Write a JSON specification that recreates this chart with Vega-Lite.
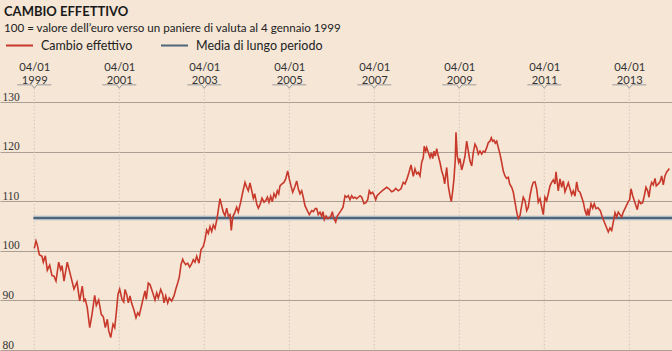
{
  "$schema": "https://vega.github.io/schema/vega-lite/v6.json",
  "width": 672,
  "height": 248,
  "autosize": {"type": "none"},
  "padding": {"left": 0, "right": 0, "top": 102, "bottom": 1},
  "background": "#f5e6d6",
  "title": {
    "text": "CAMBIO EFFETTIVO",
    "subtitle": "100 = valore dell’euro verso un paniere di valuta al 4 gennaio 1999",
    "anchor": "start",
    "frame": "group",
    "dx": 4,
    "offset": -4,
    "font": "Lato",
    "fontSize": 13,
    "fontWeight": "bold",
    "color": "#1a1a1a",
    "subtitleFont": "Lato",
    "subtitleFontSize": 11.6,
    "subtitleColor": "#222222",
    "subtitlePadding": 4.5
  },
  "datasets": {
    "scadenze": [
      {"anno": 1999}, {"anno": 2001}, {"anno": 2003}, {"anno": 2005},
      {"anno": 2007}, {"anno": 2009}, {"anno": 2011}, {"anno": 2013}
    ],
    "media": [
      {"anno": 1998.98, "fine": 2014.94, "valore": 106.6}
    ],
    "serie": [
      {"anno": 1999.000, "valore": 100.5}, {"anno": 1999.040, "valore": 102.0}, {"anno": 1999.071, "valore": 101.2},
      {"anno": 1999.118, "valore": 99.2}, {"anno": 1999.181, "valore": 98.9}, {"anno": 1999.212, "valore": 97.7},
      {"anno": 1999.259, "valore": 99.0}, {"anno": 1999.306, "valore": 96.1}, {"anno": 1999.362, "valore": 97.1},
      {"anno": 1999.416, "valore": 95.0}, {"anno": 1999.464, "valore": 94.9}, {"anno": 1999.511, "valore": 93.9},
      {"anno": 1999.574, "valore": 97.7}, {"anno": 1999.621, "valore": 96.2}, {"anno": 1999.652, "valore": 97.0},
      {"anno": 1999.699, "valore": 93.9}, {"anno": 1999.776, "valore": 97.7}, {"anno": 1999.840, "valore": 95.5},
      {"anno": 1999.934, "valore": 92.3}, {"anno": 2000.005, "valore": 93.7}, {"anno": 2000.068, "valore": 89.9},
      {"anno": 2000.129, "valore": 92.9}, {"anno": 2000.169, "valore": 89.9}, {"anno": 2000.200, "valore": 90.2},
      {"anno": 2000.247, "valore": 88.5}, {"anno": 2000.304, "valore": 84.5}, {"anno": 2000.358, "valore": 87.2},
      {"anno": 2000.421, "valore": 91.0}, {"anno": 2000.459, "valore": 89.0}, {"anno": 2000.515, "valore": 90.1},
      {"anno": 2000.576, "valore": 87.2}, {"anno": 2000.624, "valore": 86.7}, {"anno": 2000.671, "valore": 84.5},
      {"anno": 2000.718, "valore": 86.2}, {"anno": 2000.751, "valore": 83.9}, {"anno": 2000.798, "valore": 82.5},
      {"anno": 2000.852, "valore": 85.2}, {"anno": 2000.892, "valore": 84.5}, {"anno": 2000.929, "valore": 87.5},
      {"anno": 2000.969, "valore": 91.2}, {"anno": 2001.009, "valore": 92.3}, {"anno": 2001.064, "valore": 90.2},
      {"anno": 2001.104, "valore": 89.7}, {"anno": 2001.134, "valore": 92.2}, {"anno": 2001.174, "valore": 91.2},
      {"anno": 2001.212, "valore": 89.5}, {"anno": 2001.252, "valore": 90.9}, {"anno": 2001.292, "valore": 89.4},
      {"anno": 2001.339, "valore": 88.2}, {"anno": 2001.393, "valore": 86.5}, {"anno": 2001.433, "valore": 87.5},
      {"anno": 2001.471, "valore": 87.0}, {"anno": 2001.511, "valore": 88.5}, {"anno": 2001.565, "valore": 90.5},
      {"anno": 2001.605, "valore": 91.9}, {"anno": 2001.635, "valore": 90.2}, {"anno": 2001.682, "valore": 93.5},
      {"anno": 2001.722, "valore": 93.2}, {"anno": 2001.762, "valore": 92.2}, {"anno": 2001.800, "valore": 91.2},
      {"anno": 2001.840, "valore": 90.1}, {"anno": 2001.880, "valore": 91.5}, {"anno": 2001.918, "valore": 90.5},
      {"anno": 2001.974, "valore": 92.2}, {"anno": 2002.021, "valore": 91.2}, {"anno": 2002.052, "valore": 89.5},
      {"anno": 2002.092, "valore": 90.9}, {"anno": 2002.139, "valore": 89.5}, {"anno": 2002.176, "valore": 90.5},
      {"anno": 2002.233, "valore": 89.9}, {"anno": 2002.287, "valore": 90.9}, {"anno": 2002.327, "valore": 92.2},
      {"anno": 2002.374, "valore": 93.5}, {"anno": 2002.412, "valore": 94.7}, {"anno": 2002.452, "valore": 97.2},
      {"anno": 2002.492, "valore": 98.3}, {"anno": 2002.522, "valore": 97.7}, {"anno": 2002.562, "valore": 97.2},
      {"anno": 2002.609, "valore": 97.5}, {"anno": 2002.656, "valore": 96.7}, {"anno": 2002.704, "valore": 97.4},
      {"anno": 2002.741, "valore": 98.2}, {"anno": 2002.781, "valore": 97.7}, {"anno": 2002.821, "valore": 98.9},
      {"anno": 2002.875, "valore": 97.5}, {"anno": 2002.922, "valore": 100.2}, {"anno": 2002.976, "valore": 100.9},
      {"anno": 2003.016, "valore": 102.2}, {"anno": 2003.056, "valore": 104.2}, {"anno": 2003.094, "valore": 103.5},
      {"anno": 2003.134, "valore": 104.9}, {"anno": 2003.174, "valore": 103.9}, {"anno": 2003.212, "valore": 105.2},
      {"anno": 2003.252, "valore": 104.5}, {"anno": 2003.299, "valore": 106.5}, {"anno": 2003.329, "valore": 108.2},
      {"anno": 2003.369, "valore": 110.5}, {"anno": 2003.409, "valore": 109.1}, {"anno": 2003.447, "valore": 107.8},
      {"anno": 2003.487, "valore": 107.1}, {"anno": 2003.527, "valore": 108.6}, {"anno": 2003.565, "valore": 107.0},
      {"anno": 2003.605, "valore": 107.3}, {"anno": 2003.635, "valore": 104.1}, {"anno": 2003.668, "valore": 106.8},
      {"anno": 2003.722, "valore": 107.8}, {"anno": 2003.762, "valore": 108.8}, {"anno": 2003.800, "valore": 107.8},
      {"anno": 2003.856, "valore": 109.8}, {"anno": 2003.904, "valore": 111.8}, {"anno": 2003.958, "valore": 113.8},
      {"anno": 2003.998, "valore": 112.8}, {"anno": 2004.035, "valore": 112.1}, {"anno": 2004.075, "valore": 113.7},
      {"anno": 2004.122, "valore": 111.9}, {"anno": 2004.153, "valore": 110.6}, {"anno": 2004.186, "valore": 111.5},
      {"anno": 2004.233, "valore": 109.5}, {"anno": 2004.271, "valore": 108.6}, {"anno": 2004.311, "valore": 109.3},
      {"anno": 2004.358, "valore": 110.6}, {"anno": 2004.405, "valore": 109.8}, {"anno": 2004.445, "valore": 110.1},
      {"anno": 2004.485, "valore": 110.8}, {"anno": 2004.522, "valore": 109.8}, {"anno": 2004.562, "valore": 111.0},
      {"anno": 2004.600, "valore": 109.9}, {"anno": 2004.640, "valore": 111.5}, {"anno": 2004.680, "valore": 110.8},
      {"anno": 2004.718, "valore": 112.1}, {"anno": 2004.751, "valore": 111.5}, {"anno": 2004.781, "valore": 113.1},
      {"anno": 2004.828, "valore": 113.5}, {"anno": 2004.875, "valore": 113.8}, {"anno": 2004.915, "valore": 114.5},
      {"anno": 2004.962, "valore": 116.1}, {"anno": 2005.000, "valore": 114.5}, {"anno": 2005.040, "valore": 113.1},
      {"anno": 2005.080, "valore": 111.8}, {"anno": 2005.127, "valore": 112.8}, {"anno": 2005.174, "valore": 114.1},
      {"anno": 2005.212, "valore": 112.5}, {"anno": 2005.252, "valore": 111.5}, {"anno": 2005.292, "valore": 112.1},
      {"anno": 2005.329, "valore": 110.8}, {"anno": 2005.369, "valore": 109.1}, {"anno": 2005.424, "valore": 108.1},
      {"anno": 2005.471, "valore": 107.3}, {"anno": 2005.527, "valore": 108.1}, {"anno": 2005.565, "valore": 107.9},
      {"anno": 2005.612, "valore": 108.5}, {"anno": 2005.645, "valore": 108.5}, {"anno": 2005.682, "valore": 107.3},
      {"anno": 2005.722, "valore": 107.8}, {"anno": 2005.762, "valore": 107.0}, {"anno": 2005.793, "valore": 107.9},
      {"anno": 2005.824, "valore": 106.3}, {"anno": 2005.864, "valore": 107.0}, {"anno": 2005.904, "valore": 106.5},
      {"anno": 2005.941, "valore": 106.6}, {"anno": 2005.981, "valore": 107.0}, {"anno": 2006.012, "valore": 107.9},
      {"anno": 2006.045, "valore": 106.6}, {"anno": 2006.092, "valore": 105.8}, {"anno": 2006.129, "valore": 107.0},
      {"anno": 2006.169, "valore": 107.5}, {"anno": 2006.216, "valore": 108.1}, {"anno": 2006.264, "valore": 108.8},
      {"anno": 2006.311, "valore": 111.1}, {"anno": 2006.351, "valore": 110.8}, {"anno": 2006.388, "valore": 111.1},
      {"anno": 2006.428, "valore": 110.3}, {"anno": 2006.468, "valore": 111.1}, {"anno": 2006.506, "valore": 110.6},
      {"anno": 2006.546, "valore": 110.8}, {"anno": 2006.586, "valore": 110.5}, {"anno": 2006.624, "valore": 110.8},
      {"anno": 2006.664, "valore": 111.1}, {"anno": 2006.704, "valore": 110.8}, {"anno": 2006.758, "valore": 109.5},
      {"anno": 2006.805, "valore": 109.7}, {"anno": 2006.845, "valore": 110.3}, {"anno": 2006.882, "valore": 112.1},
      {"anno": 2006.922, "valore": 111.5}, {"anno": 2006.962, "valore": 111.8}, {"anno": 2007.000, "valore": 111.1},
      {"anno": 2007.033, "valore": 110.3}, {"anno": 2007.064, "valore": 111.1}, {"anno": 2007.134, "valore": 111.7},
      {"anno": 2007.212, "valore": 112.3}, {"anno": 2007.292, "valore": 112.8}, {"anno": 2007.346, "valore": 112.5},
      {"anno": 2007.409, "valore": 111.9}, {"anno": 2007.456, "valore": 112.1}, {"anno": 2007.504, "valore": 112.6},
      {"anno": 2007.565, "valore": 112.1}, {"anno": 2007.628, "valore": 112.5}, {"anno": 2007.682, "valore": 113.8},
      {"anno": 2007.722, "valore": 113.5}, {"anno": 2007.769, "valore": 114.5}, {"anno": 2007.816, "valore": 115.8},
      {"anno": 2007.864, "valore": 117.3}, {"anno": 2007.918, "valore": 115.0}, {"anno": 2007.958, "valore": 116.5},
      {"anno": 2007.998, "valore": 115.5}, {"anno": 2008.035, "valore": 115.8}, {"anno": 2008.075, "valore": 115.1},
      {"anno": 2008.115, "valore": 117.8}, {"anno": 2008.153, "valore": 118.8}, {"anno": 2008.176, "valore": 121.1},
      {"anno": 2008.209, "valore": 120.1}, {"anno": 2008.233, "valore": 120.8}, {"anno": 2008.271, "valore": 119.8},
      {"anno": 2008.311, "valore": 118.8}, {"anno": 2008.341, "valore": 119.8}, {"anno": 2008.374, "valore": 118.6},
      {"anno": 2008.405, "valore": 120.1}, {"anno": 2008.435, "valore": 119.1}, {"anno": 2008.468, "valore": 120.6},
      {"anno": 2008.506, "valore": 119.1}, {"anno": 2008.546, "valore": 117.8}, {"anno": 2008.586, "valore": 116.1},
      {"anno": 2008.624, "valore": 115.1}, {"anno": 2008.656, "valore": 113.5}, {"anno": 2008.704, "valore": 116.8},
      {"anno": 2008.741, "valore": 113.1}, {"anno": 2008.781, "valore": 111.1}, {"anno": 2008.812, "valore": 109.9},
      {"anno": 2008.845, "valore": 112.1}, {"anno": 2008.875, "valore": 114.5}, {"anno": 2008.906, "valore": 118.5},
      {"anno": 2008.922, "valore": 123.9}, {"anno": 2008.953, "valore": 119.1}, {"anno": 2008.986, "valore": 117.8},
      {"anno": 2009.016, "valore": 118.6}, {"anno": 2009.056, "valore": 116.3}, {"anno": 2009.094, "valore": 117.5},
      {"anno": 2009.134, "valore": 119.1}, {"anno": 2009.174, "valore": 122.1}, {"anno": 2009.212, "valore": 120.1},
      {"anno": 2009.252, "valore": 118.1}, {"anno": 2009.292, "valore": 117.1}, {"anno": 2009.329, "valore": 119.8},
      {"anno": 2009.369, "valore": 121.5}, {"anno": 2009.409, "valore": 120.8}, {"anno": 2009.447, "valore": 119.5},
      {"anno": 2009.487, "valore": 120.1}, {"anno": 2009.527, "valore": 119.5}, {"anno": 2009.565, "valore": 120.1},
      {"anno": 2009.605, "valore": 119.9}, {"anno": 2009.645, "valore": 120.8}, {"anno": 2009.682, "valore": 121.8},
      {"anno": 2009.722, "valore": 122.1}, {"anno": 2009.753, "valore": 122.8}, {"anno": 2009.786, "valore": 122.1},
      {"anno": 2009.816, "valore": 122.3}, {"anno": 2009.847, "valore": 121.7}, {"anno": 2009.880, "valore": 122.1},
      {"anno": 2009.918, "valore": 120.8}, {"anno": 2009.958, "valore": 119.5}, {"anno": 2009.998, "valore": 117.8},
      {"anno": 2010.035, "valore": 116.1}, {"anno": 2010.075, "valore": 115.1}, {"anno": 2010.115, "valore": 114.6},
      {"anno": 2010.153, "valore": 114.8}, {"anno": 2010.186, "valore": 113.5}, {"anno": 2010.233, "valore": 112.8},
      {"anno": 2010.271, "valore": 111.8}, {"anno": 2010.311, "valore": 109.8}, {"anno": 2010.351, "valore": 107.8},
      {"anno": 2010.388, "valore": 106.5}, {"anno": 2010.428, "valore": 107.1}, {"anno": 2010.468, "valore": 109.1},
      {"anno": 2010.506, "valore": 110.8}, {"anno": 2010.546, "valore": 110.1}, {"anno": 2010.586, "valore": 108.1},
      {"anno": 2010.624, "valore": 108.8}, {"anno": 2010.664, "valore": 111.1}, {"anno": 2010.704, "valore": 112.8},
      {"anno": 2010.741, "valore": 113.8}, {"anno": 2010.781, "valore": 113.9}, {"anno": 2010.821, "valore": 112.5},
      {"anno": 2010.859, "valore": 109.8}, {"anno": 2010.899, "valore": 110.5}, {"anno": 2010.939, "valore": 108.8},
      {"anno": 2010.976, "valore": 107.3}, {"anno": 2011.016, "valore": 110.8}, {"anno": 2011.056, "valore": 110.1},
      {"anno": 2011.094, "valore": 111.5}, {"anno": 2011.134, "valore": 113.1}, {"anno": 2011.174, "valore": 113.8},
      {"anno": 2011.212, "valore": 114.3}, {"anno": 2011.252, "valore": 113.5}, {"anno": 2011.275, "valore": 115.9},
      {"anno": 2011.306, "valore": 113.8}, {"anno": 2011.329, "valore": 112.1}, {"anno": 2011.369, "valore": 114.5},
      {"anno": 2011.409, "valore": 112.8}, {"anno": 2011.447, "valore": 114.1}, {"anno": 2011.487, "valore": 111.9},
      {"anno": 2011.527, "valore": 112.8}, {"anno": 2011.565, "valore": 113.7}, {"anno": 2011.605, "valore": 112.5},
      {"anno": 2011.645, "valore": 111.3}, {"anno": 2011.682, "valore": 112.1}, {"anno": 2011.722, "valore": 111.0},
      {"anno": 2011.762, "valore": 113.9}, {"anno": 2011.800, "valore": 112.1}, {"anno": 2011.840, "valore": 111.8},
      {"anno": 2011.880, "valore": 110.8}, {"anno": 2011.918, "valore": 109.8}, {"anno": 2011.958, "valore": 108.1},
      {"anno": 2011.998, "valore": 107.1}, {"anno": 2012.021, "valore": 108.5}, {"anno": 2012.052, "valore": 107.1},
      {"anno": 2012.099, "valore": 109.5}, {"anno": 2012.139, "valore": 108.6}, {"anno": 2012.176, "valore": 109.5},
      {"anno": 2012.216, "valore": 108.5}, {"anno": 2012.261, "valore": 108.7}, {"anno": 2012.318, "valore": 108.1},
      {"anno": 2012.365, "valore": 106.8}, {"anno": 2012.412, "valore": 105.8}, {"anno": 2012.459, "valore": 104.8},
      {"anno": 2012.506, "valore": 103.8}, {"anno": 2012.546, "valore": 104.6}, {"anno": 2012.586, "valore": 104.1},
      {"anno": 2012.624, "valore": 105.8}, {"anno": 2012.664, "valore": 107.7}, {"anno": 2012.704, "valore": 106.8},
      {"anno": 2012.741, "valore": 107.8}, {"anno": 2012.781, "valore": 107.3}, {"anno": 2012.821, "valore": 106.8},
      {"anno": 2012.859, "valore": 107.8}, {"anno": 2012.915, "valore": 108.8}, {"anno": 2012.976, "valore": 109.9},
      {"anno": 2013.009, "valore": 110.3}, {"anno": 2013.040, "valore": 112.5}, {"anno": 2013.080, "valore": 111.1},
      {"anno": 2013.118, "valore": 110.1}, {"anno": 2013.158, "valore": 109.1}, {"anno": 2013.188, "valore": 108.3},
      {"anno": 2013.228, "valore": 110.1}, {"anno": 2013.275, "valore": 109.5}, {"anno": 2013.315, "valore": 109.7},
      {"anno": 2013.353, "valore": 111.1}, {"anno": 2013.393, "valore": 112.8}, {"anno": 2013.433, "valore": 112.1},
      {"anno": 2013.464, "valore": 110.8}, {"anno": 2013.494, "valore": 112.8}, {"anno": 2013.527, "valore": 113.8},
      {"anno": 2013.565, "valore": 113.3}, {"anno": 2013.605, "valore": 114.6}, {"anno": 2013.635, "valore": 113.1},
      {"anno": 2013.682, "valore": 113.5}, {"anno": 2013.722, "valore": 113.9}, {"anno": 2013.762, "valore": 115.1},
      {"anno": 2013.800, "valore": 113.3}, {"anno": 2013.839, "valore": 115.1}, {"anno": 2013.880, "valore": 115.9},
      {"anno": 2013.918, "valore": 116.3}, {"anno": 2013.941, "valore": 116.6}
    ]
  },
  "layer": [
    {
      "data": {"name": "serie"},
      "mark": {"type": "line", "strokeWidth": 1.7, "opacity": 0},
      "encoding": {
        "x": {
          "field": "anno",
          "type": "quantitative",
          "scale": {"domain": [1998.193, 2014.005], "nice": false, "zero": false},
          "axis": {
            "orient": "top",
            "values": [1999, 2001, 2003, 2005, 2007, 2009, 2011, 2013],
            "labelExpr": "['04/01', format(datum.value, 'd')]",
            "domain": false,
            "ticks": false,
            "tickSize": 0,
            "grid": false,
            "labelPadding": 29.5,
            "labelFont": "Lato",
            "labelFontSize": 11.2,
            "labelColor": "#333333",
            "labelLineHeight": 12.5,
            "labelFlush": false,
            "labelOverlap": false,
            "title": null
          }
        },
        "y": {
          "field": "valore",
          "type": "quantitative",
          "scale": {"domain": [80, 130], "nice": false, "zero": false},
          "axis": {
            "values": [80, 90, 100, 110, 120, 130],
            "grid": true,
            "gridColor": "#ab9e92",
            "gridWidth": 1,
            "domain": false,
            "ticks": false,
            "tickSize": 0,
            "labelAlign": "left",
            "labelBaseline": "alphabetic",
            "labelPadding": -2,
            "labelOffset": -2,
            "labelFont": "Liberation Serif",
            "labelFontSize": 11.5,
            "labelColor": "#333333",
            "labelFlush": false,
            "labelOverlap": false,
            "title": null
          }
        },
        "color": {
          "datum": "Cambio effettivo",
          "type": "nominal",
          "scale": {
            "domain": ["Cambio effettivo", "Media di lungo periodo"],
            "range": ["#c8392b", "#4e667a"]
          },
          "legend": {
            "orient": "none",
            "legendX": 5,
            "legendY": -71,
            "direction": "horizontal",
            "title": null,
            "symbolType": "stroke",
            "symbolSize": 729,
            "symbolStrokeWidth": 2,
            "symbolOpacity": 1,
            "labelFont": "Lato",
            "labelFontSize": 12.5,
            "labelColor": "#222222",
            "labelOffset": 7,
            "columnPadding": 24
          }
        }
      }
    },
    {
      "data": {"name": "scadenze"},
      "mark": {"type": "rule", "color": "#d2c6ba", "strokeWidth": 1, "strokeDash": [1.5, 2]},
      "encoding": {
        "x": {"field": "anno", "type": "quantitative"},
        "y": {"datum": 132.75, "type": "quantitative"},
        "y2": {"datum": 80}
      }
    },
    {
      "data": {"name": "scadenze"},
      "mark": {
        "type": "point",
        "shape": "M-1,0L-0.16,0L0,0.2L0.16,0L1,0",
        "filled": false,
        "size": 1156,
        "color": "#9a9a9a",
        "strokeWidth": 1,
        "opacity": 1
      },
      "encoding": {
        "x": {"field": "anno", "type": "quantitative"},
        "y": {"datum": 133.46, "type": "quantitative"}
      }
    },
    {
      "data": {"name": "media"},
      "mark": {"type": "rule", "color": "#aebbc4", "strokeWidth": 4.5},
      "encoding": {
        "x": {"field": "anno", "type": "quantitative"},
        "x2": {"field": "fine"},
        "y": {"field": "valore", "type": "quantitative"}
      }
    },
    {
      "data": {"name": "media"},
      "mark": {"type": "rule", "strokeWidth": 2},
      "encoding": {
        "x": {"field": "anno", "type": "quantitative"},
        "x2": {"field": "fine"},
        "y": {"field": "valore", "type": "quantitative"},
        "color": {"datum": "Media di lungo periodo", "type": "nominal"}
      }
    },
    {
      "data": {"name": "serie"},
      "mark": {"type": "line", "strokeWidth": 1.6, "interpolate": "linear"},
      "encoding": {
        "x": {"field": "anno", "type": "quantitative"},
        "y": {"field": "valore", "type": "quantitative"},
        "color": {"datum": "Cambio effettivo", "type": "nominal"}
      }
    }
  ],
  "config": {
    "view": {"stroke": null}
  }
}
